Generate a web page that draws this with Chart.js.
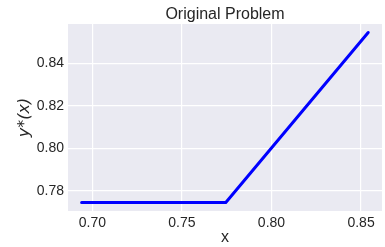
<!DOCTYPE html>
<html>
<head>
<meta charset="utf-8">
<script src="https://cdn.jsdelivr.net/npm/chart.js@4/dist/chart.umd.min.js"></script>
<style>
html,body{margin:0;padding:0;background:#fff;}
#wrap{width:385px;height:247px;position:relative;}
</style>
</head>
<body>
<div id="wrap"><canvas id="c" width="385" height="247"></canvas></div>
<script>
const xValues = [0.694, 0.7745, 0.854];
const yValues = [0.7746, 0.7746, 0.8546];
const xTicks = [0.70, 0.75, 0.80, 0.85];
const yTicks = [0.78, 0.80, 0.82, 0.84];
const chartTitle = 'Original Problem';
const xLabel = 'x';
const yLabel = 'y*(x)';

const txt = '#262626';
const fam = '"Liberation Sans", Arial, sans-serif';

const bgPlugin = {
  id: 'bg',
  beforeDraw(chart) {
    const {ctx, chartArea: a} = chart;
    ctx.save();
    ctx.fillStyle = '#EAEAF2';
    ctx.fillRect(a.left, a.top, a.right - a.left, a.bottom - a.top);
    ctx.restore();
  },
  afterDraw(chart) {
    const {ctx, chartArea: a} = chart;
    ctx.save();
    ctx.fillStyle = txt;
    ctx.font = '16px ' + fam;
    ctx.textAlign = 'center';
    ctx.textBaseline = 'alphabetic';
    ctx.fillText(chartTitle, (a.left + a.right) / 2, 19);
    ctx.restore();
  }
};

new Chart(document.getElementById('c'), {
  type: 'line',
  data: {
    datasets: [{
      data: xValues.map((x, i) => ({x: x, y: yValues[i]})),
      borderColor: '#0000FF',
      borderWidth: 3,
      pointRadius: 0,
      tension: 0,
      borderJoinStyle: 'round',
      borderCapStyle: 'round',
      fill: false
    }]
  },
  options: {
    responsive: false,
    animation: false,
    devicePixelRatio: 1,
    layout: {padding: {left: 0, right: 3, top: 24, bottom: 0}},
    plugins: {
      legend: {display: false},
      tooltip: {enabled: false},
      title: {display: false}
    },
    scales: {
      x: {
        type: 'linear',
        min: 0.6864,
        max: 0.8617,
        afterBuildTicks(s) { s.ticks = xTicks.map(v => ({value: v})); },
        afterFit(s) { s.height = 36; },
        grid: {color: '#FFFFFF', lineWidth: 1.2, drawTicks: false},
        border: {display: false},
        ticks: {
          color: txt, font: {family: fam, size: 14}, padding: 4,
          maxRotation: 0,
          callback: v => Number(v).toFixed(2)
        },
        title: {
          display: true, text: xLabel, color: txt,
          font: {family: fam, size: 16}, padding: {top: 0, bottom: 0}
        }
      },
      y: {
        type: 'linear',
        min: 0.7706,
        max: 0.8586,
        afterBuildTicks(s) { s.ticks = yTicks.map(v => ({value: v})); },
        afterFit(s) { s.width = 68; },
        grid: {color: '#FFFFFF', lineWidth: 1.2, drawTicks: false},
        border: {display: false},
        ticks: {
          color: txt, font: {family: fam, size: 14}, padding: 4,
          callback: v => Number(v).toFixed(2)
        },
        title: {
          display: true, text: yLabel, color: txt,
          font: {family: '"DejaVu Sans", sans-serif', size: 16, style: 'italic'},
          padding: {top: 15, bottom: 0}
        }
      }
    }
  },
  plugins: [bgPlugin]
});
</script>
</body>
</html>
